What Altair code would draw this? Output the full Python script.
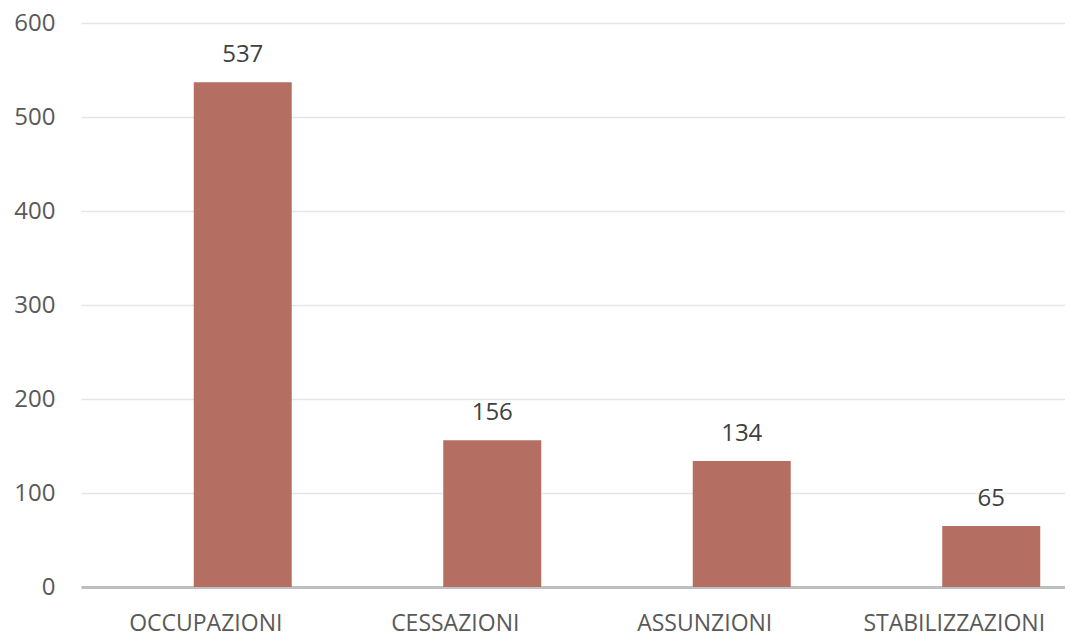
import altair as alt
import pandas as pd

categories = ["OCCUPAZIONI", "CESSAZIONI", "ASSUNZIONI", "STABILIZZAZIONI"]
values = [537, 156, 134, 65]

df = pd.DataFrame({"cat": categories, "val": values})

FONT = "Open Sans"
BAR = "#B46E62"

x = alt.X(
    "cat:N",
    sort=None,
    title=None,
    scale=alt.Scale(range=[0, 998], paddingInner=0, paddingOuter=0),
    axis=alt.Axis(
        labelAngle=0,
        labelFont=FONT,
        labelFontSize=23,
        labelColor="#595959",
        labelPadding=25,
        labelLimit=0,
        ticks=False,
        domainColor="#BFBFBF",
        domainWidth=3,
        grid=False,
    ),
)
y = alt.Y(
    "val:Q",
    title=None,
    scale=alt.Scale(domain=[0, 600], nice=False),
    axis=alt.Axis(
        values=[0, 100, 200, 300, 400, 500, 600],
        labelFont=FONT,
        labelFontSize=24,
        labelColor="#595959",
        labelPadding=26,
        ticks=False,
        domain=False,
        gridColor="#E6E6E6",
        gridWidth=1.5,
    ),
)

base = alt.Chart(df)
bars = base.mark_bar(size=98, xOffset=37, color=BAR).encode(x=x, y=y)
labels = base.mark_text(
    xOffset=37, dy=-20, baseline="alphabetic", font=FONT, fontSize=24, color="#404040"
).encode(x=x, y=y, text="val:Q")

chart = (
    alt.layer(bars, labels)
    .properties(
        width=984,
        height=564,
        autosize=alt.AutoSizeParams(type="none"),
        padding={"left": 73, "top": 15, "right": 0, "bottom": 50},
    )
    .configure_view(stroke=None)
)

chart.save("out.html", embed_options={"renderer": "svg", "actions": False})
